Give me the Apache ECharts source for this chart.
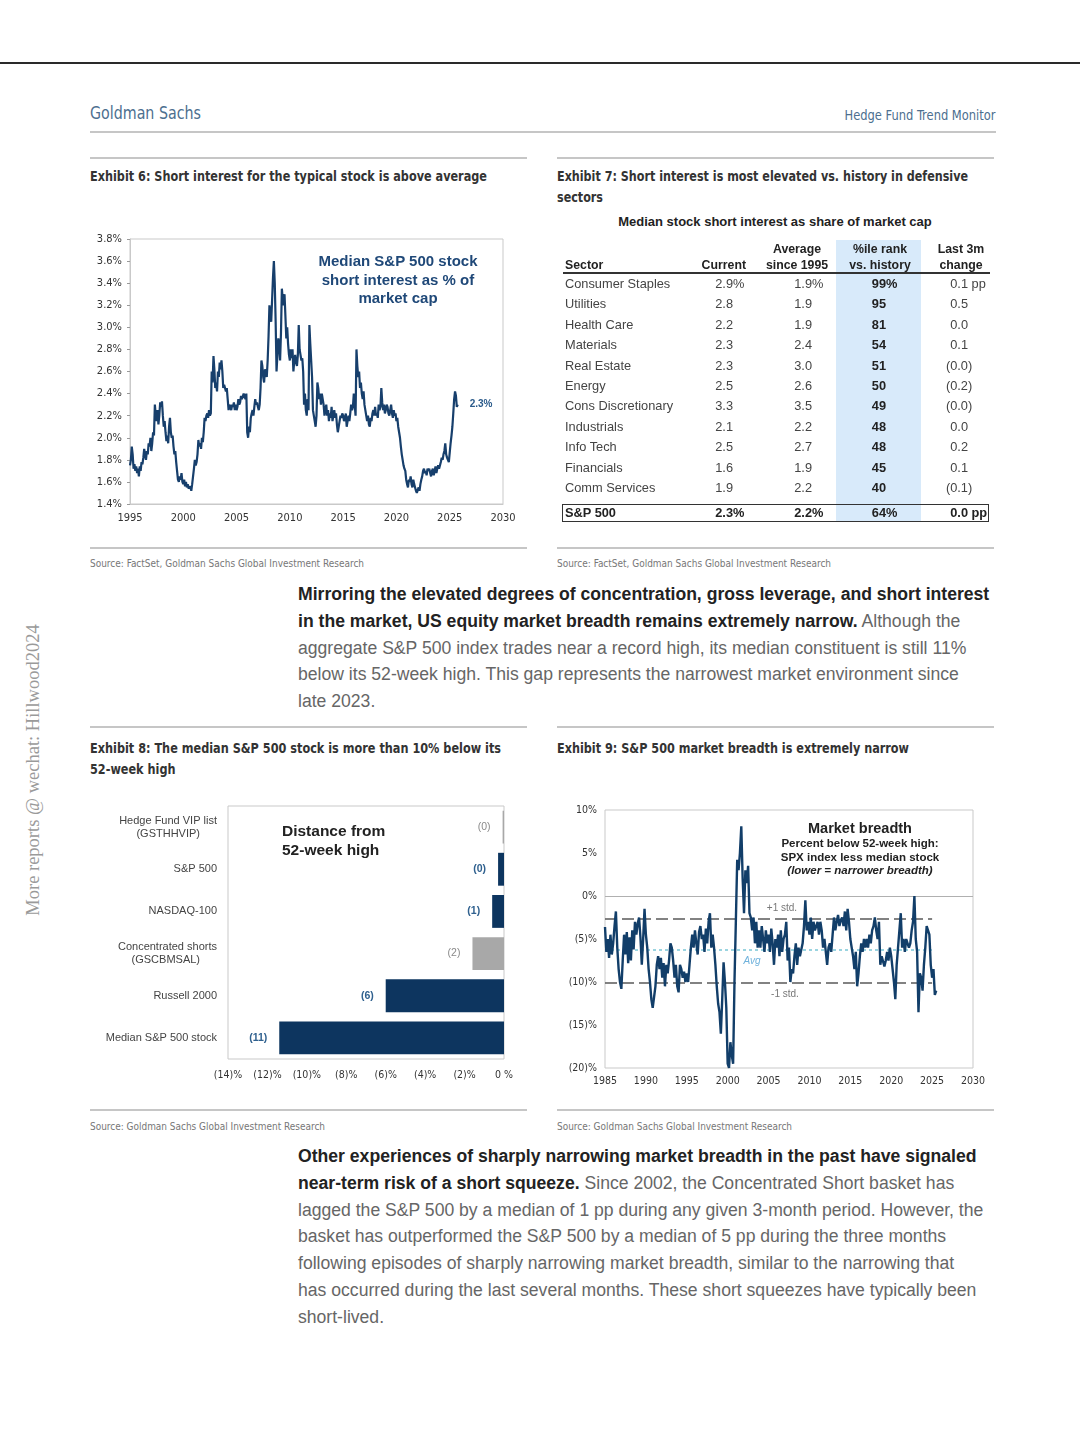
<!DOCTYPE html>
<html>
<head>
<meta charset="utf-8">
<script src="https://cdn.jsdelivr.net/npm/echarts@6/dist/echarts.min.js"></script>
<style>
  html, body { margin:0; padding:0; }
  body { width:1080px; height:1440px; background:#fff; position:relative; overflow:hidden;
         font-family:'Liberation Sans', Arial, sans-serif; color:#333; }
  .a { position:absolute; white-space:nowrap; }
  .nar { font-family:'Liberation Sans Narrow','DejaVu Sans Condensed','Roboto Condensed',sans-serif; }
  .rule { position:absolute; background:#c6c6c6; height:2px; }
  .ttl { font-weight:bold; font-size:14px; color:#333; line-height:21px; }
  .src { font-size:10.5px; color:#777; line-height:14px; }
  .para { position:absolute; left:298px; font-size:17.6px; line-height:26.8px; color:#666; white-space:nowrap; }
  .para b { color:#222; }
  .chart { position:absolute; }
</style>
</head>
<body>
<script>
// ---------------- DATA ----------------
// Exhibit 6: median S&P 500 stock short interest (% of market cap), monthly from Jan 1995
const siStartYear = 1995;
const siMonthly = [
  1.75,1.80,1.92,1.85,1.72,1.76,1.70,1.74,1.68,1.72,1.65,1.74,
  1.70,1.78,1.76,1.82,1.90,1.84,1.80,1.88,1.85,1.95,1.92,2.00,
  1.88,1.95,2.05,2.02,2.30,2.20,2.15,2.25,2.12,2.20,2.32,2.28,
  2.33,2.20,2.10,2.15,2.05,1.97,2.02,1.95,2.10,2.18,2.05,2.00,
  2.02,1.92,1.85,1.88,1.78,1.70,1.62,1.60,1.65,1.62,1.68,1.60,
  1.58,1.62,1.56,1.60,1.55,1.58,1.54,1.53,1.56,1.52,1.58,1.65,
  1.72,1.80,1.75,1.78,1.85,1.98,1.92,1.95,1.90,2.00,1.96,2.05,
  2.18,2.15,2.20,2.22,2.18,2.25,2.20,2.22,2.60,2.50,2.74,2.62,
  2.45,2.50,2.42,2.60,2.55,2.68,2.62,2.70,2.60,2.45,2.48,2.45,
  2.42,2.45,2.35,2.25,2.30,2.28,2.25,2.30,2.28,2.32,2.25,2.30,
  2.25,2.28,2.35,2.30,2.32,2.38,2.35,2.36,2.40,2.38,2.35,2.40,
  2.05,2.00,2.10,2.05,2.18,2.22,2.25,2.20,2.28,2.35,2.30,2.32,
  2.28,2.25,2.30,2.45,2.70,2.65,2.55,2.50,2.62,2.60,2.55,2.70,
  2.92,3.20,3.10,3.05,3.25,3.45,3.60,3.40,3.05,2.60,2.75,2.90,
  2.85,2.70,2.95,3.35,3.25,3.20,3.30,3.10,2.90,3.00,2.85,2.75,
  2.70,2.80,2.72,2.80,2.60,2.70,2.75,2.68,2.65,2.75,3.02,2.80,
  2.75,2.70,2.72,2.60,2.30,2.40,2.25,2.20,2.35,2.25,3.02,2.85,
  2.70,2.55,2.25,2.20,2.15,2.10,2.20,2.50,2.45,2.35,2.40,2.30,
  2.40,2.35,2.30,2.20,2.25,2.30,2.20,2.25,2.15,2.22,2.18,2.28,
  2.15,2.20,2.25,2.18,2.22,2.12,2.05,2.10,2.15,2.20,2.18,2.22,
  2.20,2.15,2.18,2.22,2.10,2.15,2.20,2.15,2.22,2.30,2.25,2.28,
  2.40,2.30,2.20,2.80,2.65,2.55,2.60,2.45,2.50,2.40,2.35,2.42,
  2.30,2.25,2.20,2.15,2.20,2.12,2.10,2.18,2.15,2.22,2.25,2.20,
  2.28,2.20,2.22,2.18,2.30,2.25,2.28,2.45,2.32,2.25,2.30,2.22,
  2.25,2.30,2.28,2.22,2.20,2.25,2.30,2.22,2.18,2.25,2.20,2.22,
  2.15,2.18,2.10,2.05,2.00,1.92,1.85,1.80,1.75,1.72,1.70,1.62,
  1.58,1.55,1.62,1.60,1.65,1.58,1.55,1.62,1.58,1.55,1.52,1.50,
  1.50,1.55,1.52,1.58,1.62,1.65,1.70,1.72,1.68,1.70,1.66,1.72,
  1.70,1.72,1.68,1.65,1.70,1.72,1.66,1.70,1.74,1.68,1.72,1.75,
  1.72,1.75,1.78,1.82,1.80,1.85,1.88,1.95,1.85,1.82,1.80,1.78,
  1.78,1.95,2.02,2.10,2.22,2.35,2.42,2.38,2.28,2.30
];
const siEndLabel = '2.3%';
const siYAxis = { min:1.4, max:3.8, step:0.2 };
const siXAxis = { min:1995, max:2030, step:5 };

// Exhibit 7: table
const sectors = ['Consumer Staples','Utilities','Health Care','Materials','Real Estate','Energy','Cons Discretionary','Industrials','Info Tech','Financials','Comm Services'];
const currentSI = [2.9,2.8,2.2,2.3,2.3,2.5,3.3,2.1,2.5,1.6,1.9];
const avgSince1995 = [1.9,1.9,1.9,2.4,3.0,2.6,3.5,2.2,2.7,1.9,2.2];
const pctileRank = [99,95,81,54,51,50,49,48,48,45,40];
const last3mChange = [0.1,0.5,0.0,0.1,-0.04,-0.2,-0.03,0.0,0.2,0.1,-0.1];
const spxRow = { name:'S&P 500', current:2.3, avg:2.2, pct:64, chg:0.0 };

// Exhibit 8: distance from 52-week high (%)
const barCategories = ['Hedge Fund VIP list\n(GSTHHVIP)','S&P 500','NASDAQ-100','Concentrated shorts\n(GSCBMSAL)','Russell 2000','Median S&P 500 stock'];
const barValues = [-0.07,-0.3,-0.6,-1.6,-6.0,-11.4];
const barIsGrey = [true,false,false,true,false,false];

// Exhibit 9: market breadth, SPX less median stock (% below 52w high), bi-monthly from 1985
const breadthStartYear = 1985;
const breadthBimonthly = [
  -3.6,-6.5,-5.0,-7.2,-4.5,-6.8,
  -5.5,-3.5,-1.8,-6.0,-8.5,-10.0,
  -10.8,-7.5,-4.5,-6.8,-4.2,-7.8,
  -4.8,-7.5,-4.0,-6.2,-3.0,-4.5,
  -3.2,-2.5,-4.8,-8.0,-5.0,-1.5,
  -4.5,-6.0,-8.5,-10.0,-12.0,-13.0,
  -12.8,-10.5,-8.0,-7.0,-8.5,-7.2,
  -9.5,-7.8,-10.5,-8.0,-9.0,-7.5,
  -5.5,-6.0,-7.5,-9.5,-8.0,-10.5,
  -11.2,-8.0,-8.5,-9.5,-8.8,-10.0,
  -9.0,-10.0,-8.0,-6.0,-4.5,-6.0,
  -4.0,-5.5,-6.8,-4.2,-3.5,-5.0,
  -4.5,-6.5,-3.8,-5.5,-3.0,-2.0,
  -6.0,-4.5,-6.0,-8.0,-10.5,-12.5,
  -13.5,-16.0,-12.0,-7.7,-10.0,-13.0,
  -19.5,-20.0,-17.0,-18.5,-19.5,-10.0,
  -3.0,4.2,3.0,5.0,8.1,2.0,
  -2.0,3.0,1.5,3.5,-2.0,-2.5,
  -4.0,-2.5,-5.5,-3.0,-6.0,-4.0,
  -6.0,-3.5,-5.0,-6.5,-4.0,-5.5,
  -4.5,-6.5,-3.8,-5.5,-8.0,-5.0,
  -6.0,-4.5,-7.0,-4.0,-6.5,-5.0,
  -4.5,-3.0,-7.5,-6.0,-10.0,-8.5,
  -9.0,-7.0,-5.5,-8.0,-6.0,-7.0,
  -7.0,-5.5,-3.5,-0.5,-4.0,-3.0,
  -4.5,-2.5,-5.0,-3.0,-4.0,-3.5,
  -3.0,-4.5,-3.0,-4.0,-6.0,-5.0,
  -6.5,-8.0,-6.0,-5.5,-6.5,-4.5,
  -2.5,-4.0,-3.0,-2.2,-3.5,-2.8,
  -2.5,-3.5,-1.8,-4.0,-1.5,-3.0,
  -5.0,-6.0,-7.0,-8.5,-6.5,-10.5,
  -9.0,-7.0,-5.5,-6.5,-5.0,-6.0,
  -5.0,-6.0,-4.5,-5.5,-4.0,-3.5,
  -2.5,-4.0,-5.0,-3.0,-8.0,-7.0,
  -7.0,-8.2,-7.5,-6.5,-7.5,-6.0,
  -7.0,-8.5,-10.0,-12.0,-8.0,-6.0,
  -4.0,-2.0,-6.0,-5.0,-6.5,-5.0,
  -5.5,-6.0,-5.5,-4.0,-3.0,0.0,
  -5.0,-6.5,-13.5,-9.0,-9.5,-11.0,
  -8.0,-6.0,-3.5,-4.0,-4.5,-8.0,
  -9.5,-8.5,-11.5,-11.0
];
const breadthRefLines = { zero:0, plus1sd:-2.6, avg:-6.3, minus1sd:-10.1, from:1985, to:2025 };
</script>

<!-- page furniture -->
<div class="a" style="left:0;top:62px;width:1080px;height:2px;background:#2a2a2a"></div>
<div class="a nar" data-w="111" style="left:90px;top:103px;font-size:18px;line-height:20px;color:#4d6f8f">Goldman Sachs</div>
<div class="a nar" data-w="151" data-o="right" style="right:84px;top:105px;font-size:14px;line-height:20px;color:#4d6f8f">Hedge Fund Trend Monitor</div>
<div class="rule" style="left:90px;top:131px;width:906px"></div>

<div class="rule" style="left:90px;top:157px;width:437px"></div>
<div class="rule" style="left:557px;top:157px;width:437px"></div>
<div class="a nar ttl" data-w="397" style="left:90px;top:166px">Exhibit 6: Short interest for the typical stock is above average</div>
<div class="a nar ttl" data-w="411" style="left:557px;top:166px">Exhibit 7: Short interest is most elevated vs. history in defensive<br>sectors</div>

<div class="rule" style="left:90px;top:547px;width:437px"></div>
<div class="rule" style="left:557px;top:547px;width:437px"></div>
<div class="a nar src" data-w="274" style="left:90px;top:556px">Source: FactSet, Goldman Sachs Global Investment Research</div>
<div class="a nar src" data-w="274" style="left:557px;top:556px">Source: FactSet, Goldman Sachs Global Investment Research</div>

<div class="para" style="top:581px"><b>Mirroring the elevated degrees of concentration, gross leverage, and short interest</b><br><b>in the market, US equity market breadth remains extremely narrow.</b> Although the<br>aggregate S&amp;P 500 index trades near a record high, its median constituent is still 11%<br>below its 52-week high. This gap represents the narrowest market environment since<br>late 2023.</div>

<div class="rule" style="left:90px;top:726px;width:437px"></div>
<div class="rule" style="left:557px;top:726px;width:437px"></div>
<div class="a nar ttl" data-w="411" style="left:90px;top:738px">Exhibit 8: The median S&amp;P 500 stock is more than 10% below its<br>52-week high</div>
<div class="a nar ttl" data-w="352" style="left:557px;top:738px">Exhibit 9: S&amp;P 500 market breadth is extremely narrow</div>

<div class="rule" style="left:90px;top:1109px;width:437px"></div>
<div class="rule" style="left:557px;top:1109px;width:437px"></div>
<div class="a nar src" data-w="235" style="left:90px;top:1119px">Source: Goldman Sachs Global Investment Research</div>
<div class="a nar src" data-w="235" style="left:557px;top:1119px">Source: Goldman Sachs Global Investment Research</div>

<div class="para" style="top:1143px"><b>Other experiences of sharply narrowing market breadth in the past have signaled</b><br><b>near-term risk of a short squeeze.</b> Since 2002, the Concentrated Short basket has<br>lagged the S&amp;P 500 by a median of 1 pp during any given 3-month period. However, the<br>basket has outperformed the S&amp;P 500 by a median of 5 pp during the three months<br>following episodes of sharply narrowing market breadth, similar to the narrowing that<br>has occurred during the last several months. These short squeezes have typically been<br>short-lived.</div>

<div class="a" style="left:33px;top:770px;transform:translate(-50%,-50%) rotate(-90deg);font-family:'Liberation Serif','DejaVu Serif',serif;font-size:18.5px;color:#9a9a9a">More reports @ wechat: Hillwood2024</div>

<!-- chart containers -->
<div id="c6" class="chart" style="left:85px;top:225px;width:440px;height:310px"></div>
<div id="c8" class="chart" style="left:85px;top:795px;width:445px;height:295px"></div>
<div id="c9" class="chart" style="left:555px;top:800px;width:440px;height:295px"></div>

<!-- chart annotations -->
<div class="a" style="left:398px;top:252px;transform:translateX(-50%);text-align:center;font-weight:bold;font-size:15px;line-height:18.5px;color:#1f4878">Median S&amp;P 500 stock<br>short interest as % of<br>market cap</div>
<div class="a" style="left:282px;top:822px;font-weight:bold;font-size:15.5px;line-height:18.5px;color:#222">Distance from<br>52-week high</div>
<div class="a" style="left:860px;top:820px;transform:translateX(-50%);text-align:center;color:#222;font-weight:bold">
  <div style="font-size:14.5px;line-height:17px">Market breadth</div>
  <div style="font-size:11.5px;line-height:13.5px">Percent below 52-week high:<br>SPX index less median stock<br><i>(lower = narrower breadth)</i></div>
</div>
<div class="a" style="left:782px;top:902px;transform:translateX(-50%);font-size:10px;color:#777">+1 std.</div>
<div class="a" style="left:752px;top:955px;transform:translateX(-50%);font-size:10px;color:#6fb2dc;font-style:italic">Avg</div>
<div class="a" style="left:785px;top:988px;transform:translateX(-50%);font-size:10px;color:#777">-1 std.</div>

<script>
const NAR = "'Liberation Sans Narrow','DejaVu Sans Condensed',sans-serif";
const NAVY = '#0d355f';

// fit condensed texts to their measured widths in the reference
document.querySelectorAll('[data-w]').forEach(el => {
  const w = el.getBoundingClientRect().width;
  el.style.transformOrigin = (el.dataset.o === 'right' ? 'right' : 'left') + ' center';
  el.style.transform = 'scaleX(' + (parseFloat(el.dataset.w) / w).toFixed(4) + ')';
});

// ---------- Exhibit 7 table ----------
(function(){
  const host = document.body;
  function put(html, x, y, align, css){
    const d = document.createElement('div');
    d.className = 'a';
    d.style.top = (y - 8) + 'px';
    d.style.lineHeight = '16px';
    if (align === 'right') d.style.right = (1080 - x) + 'px';
    else if (align === 'center') { d.style.left = x + 'px'; d.style.transform = 'translateX(-50%)'; d.style.textAlign='center'; }
    else d.style.left = x + 'px';
    d.style.cssText += css || '';
    d.innerHTML = html;
    host.appendChild(d);
    return d;
  }
  const hang = s => '<span style="position:absolute;left:100%;top:0;white-space:pre">' + s + '</span>';
  const sh = document.createElement('div');
  sh.className='a'; sh.style.cssText += 'left:836px;top:240px;width:85px;height:282px;background:#d8eafa';
  host.appendChild(sh);
  put('Median stock short interest as share of market cap', 775, 222, 'center', 'font-weight:bold;font-size:13px;color:#222');
  const hcss = 'font-weight:bold;font-size:12.3px;color:#222;line-height:16px';
  put('Sector', 565, 265, 'left', hcss);
  put('Current', 746, 265, 'right', hcss);
  put('Average<br>since 1995', 797, 257, 'center', hcss + ';top:241px');
  put('%ile rank<br>vs. history', 880, 257, 'center', hcss + ';top:241px');
  put('Last 3m<br>change', 961, 257, 'center', hcss + ';top:241px');
  const ul = document.createElement('div');
  ul.className='a'; ul.style.cssText += 'left:563px;top:272px;width:427px;height:1.5px;background:#333';
  host.appendChild(ul);
  const bcss = 'font-size:12.8px;color:#444';
  function chgFmt(v){
    if (v < 0) return '(' + Math.abs(v).toFixed(1) + hang(')');
    return v.toFixed(1);
  }
  sectors.forEach((s, i) => {
    const y = 284 + i * 20.4;
    put(s, 565, y, 'left', bcss);
    put(currentSI[i].toFixed(1) + (i===0 ? hang('%') : ''), 733, y, 'right', bcss);
    put(avgSince1995[i].toFixed(1) + (i===0 ? hang('%') : ''), 812, y, 'right', bcss);
    put(String(pctileRank[i]) + (i===0 ? hang('%') : ''), 886, y, 'right', bcss + ';font-weight:bold;color:#222');
    let c = chgFmt(last3mChange[i]);
    if (i===0) c = last3mChange[i].toFixed(1) + hang(' pp');
    put(c, 968, y, 'right', bcss);
  });
  const box = document.createElement('div');
  box.className='a'; box.style.cssText += 'left:562px;top:504px;width:425px;height:16px;border:1.5px solid #333';
  host.appendChild(box);
  const scss = 'font-size:12.8px;font-weight:bold;color:#222';
  const y = 513;
  put(spxRow.name, 565, y, 'left', scss);
  put(spxRow.current.toFixed(1) + hang('%'), 733, y, 'right', scss);
  put(spxRow.avg.toFixed(1) + hang('%'), 812, y, 'right', scss);
  put(String(spxRow.pct) + hang('%'), 886, y, 'right', scss);
  put(spxRow.chg.toFixed(1) + hang(' pp'), 968, y, 'right', scss);
})();

// ---------- Exhibit 6 ----------
const siData = siMonthly.map((v, i) => [siStartYear + i / 12, v]);
const c6 = echarts.init(document.getElementById('c6'));
c6.setOption({
  animation: false,
  grid: { left:45, top:14, right:22, bottom:31, show:true, borderColor:'#c9c9c9', borderWidth:1 },
  xAxis: { type:'value', min:siXAxis.min, max:siXAxis.max, interval:siXAxis.step,
    axisLine:{ show:true, lineStyle:{ color:'#c9c9c9' } }, axisTick:{ show:false }, splitLine:{ show:false },
    axisLabel:{ color:'#333', fontSize:11, fontFamily:NAR, margin:9, formatter: v => String(v) } },
  yAxis: { type:'value', min:siYAxis.min, max:siYAxis.max, interval:siYAxis.step,
    axisLine:{ show:true, lineStyle:{ color:'#c9c9c9' } }, axisTick:{ show:true, length:3, lineStyle:{ color:'#999' } },
    splitLine:{ show:false },
    axisLabel:{ color:'#333', fontSize:11, fontFamily:NAR, margin:8, formatter: v => v.toFixed(1) + '%' } },
  series: [{ type:'line', data: siData, showSymbol:false, lineStyle:{ color:'#173f6c', width:2.2 },
    endLabel:{ show:true, formatter: siEndLabel, color:'#2a5a8a', fontSize:10, fontWeight:'bold', distance:12 } }]
});

// ---------- Exhibit 8 ----------
const c8 = echarts.init(document.getElementById('c8'));
c8.setOption({
  animation:false,
  grid: { left:143, top:11, width:276, height:253, show:true, borderColor:'#c9c9c9', borderWidth:1 },
  xAxis: { type:'value', min:-14, max:0, interval:2, splitLine:{ show:false },
    axisLine:{ show:false }, axisTick:{ show:false },
    axisLabel:{ color:'#333', fontSize:10.5, fontFamily:NAR, margin:11,
      formatter: v => v < 0 ? '(' + (-v) + ')%' : '0 %' } },
  yAxis: { type:'category', inverse:true, data: barCategories,
    axisLine:{ show:false }, axisTick:{ show:false },
    axisLabel:{ color:'#444', fontSize:11, margin:11, lineHeight:13,
      formatter: v => { const p = v.split('\n'); return p.length > 1 ? p[0] + '\n{p|' + p[1] + '}' : v; },
      rich:{ p:{ color:'#444', fontSize:11, padding:[0,17,0,0] } } } },
  series: [{ type:'bar', barCategoryGap:'22%',
    data: barValues.map((v, i) => ({ value:v,
      itemStyle:{ color: barIsGrey[i] ? '#a8a8a8' : NAVY },
      label:{ color: barIsGrey[i] ? '#8a8a8a' : '#30618f', fontWeight: barIsGrey[i] ? 'normal' : 'bold' } })),
    label:{ show:true, position:'left', distance:12, fontSize:10.5, formatter: p => '(' + Math.round(-p.value) + ')' } }]
});

// ---------- Exhibit 9 ----------
const breadthData = breadthBimonthly.map((v, i) => [breadthStartYear + i / 6, v]);
const R = breadthRefLines;
const c9 = echarts.init(document.getElementById('c9'));
c9.setOption({
  animation:false,
  grid: { left:50, top:10, right:22, bottom:27, show:true, borderColor:'#c9c9c9', borderWidth:1 },
  xAxis: { type:'value', min:1985, max:2030, interval:5, splitLine:{ show:false },
    axisLine:{ show:false }, axisTick:{ show:false },
    axisLabel:{ color:'#333', fontSize:10.5, fontFamily:NAR, margin:8, formatter: v => String(v) } },
  yAxis: { type:'value', min:-20, max:10, interval:5, splitLine:{ show:false },
    axisLine:{ show:false }, axisTick:{ show:false },
    axisLabel:{ color:'#333', fontSize:10.5, fontFamily:NAR, margin:8,
      formatter: v => v < 0 ? '(' + (-v) + ')%' : v + '%' } },
  series: [{ type:'line', data: breadthData, showSymbol:false, z:3,
    lineStyle:{ color:'#123e69', width:2.4 },
    markLine:{ symbol:'none', silent:true, label:{ show:false }, z:2,
      data:[
        [{ coord:[1985, R.zero], lineStyle:{ color:'#b0b0b0', width:1, type:'solid' } }, { coord:[2030, R.zero] }],
        [{ coord:[R.from, R.plus1sd], lineStyle:{ color:'#5a5a5a', width:1.5, type:[12,5] } }, { coord:[R.to, R.plus1sd] }],
        [{ coord:[R.from, R.avg], lineStyle:{ color:'#79c6d6', width:1.5, type:[3,3] } }, { coord:[R.to, R.avg] }],
        [{ coord:[R.from, R.minus1sd], lineStyle:{ color:'#5a5a5a', width:1.5, type:[12,5] } }, { coord:[R.to, R.minus1sd] }]
      ] } }]
});
</script>
</body>
</html>
